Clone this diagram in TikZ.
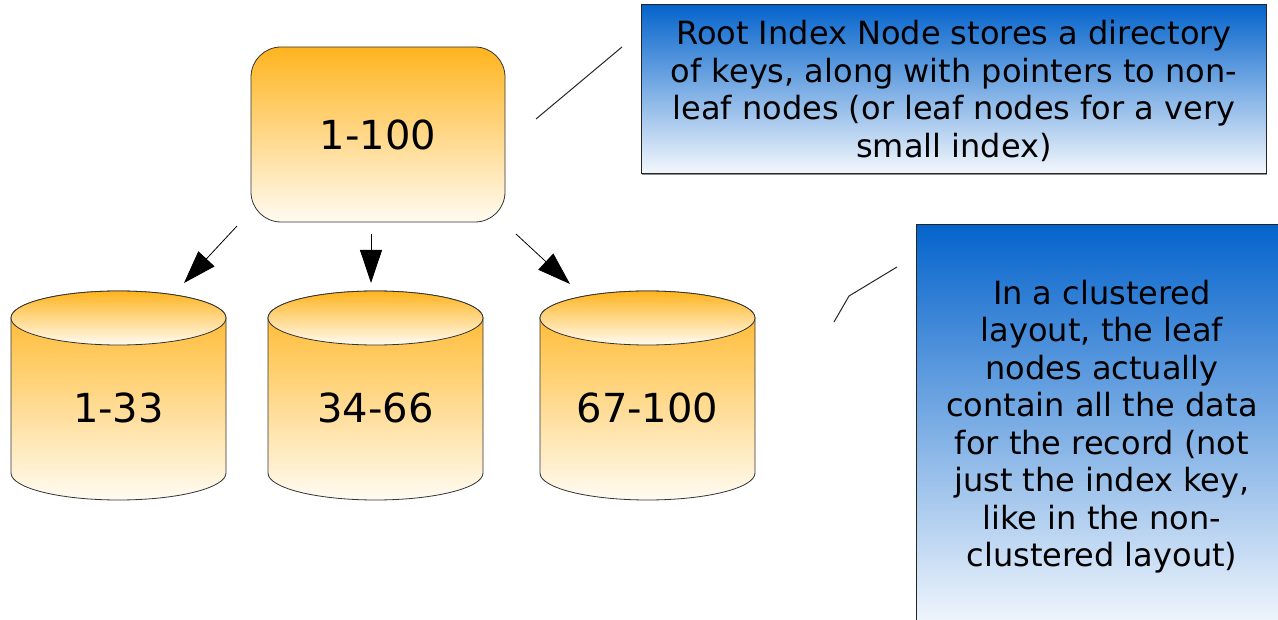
\documentclass[tikz,border=0pt]{standalone}
\usepackage{fontspec}
\setmainfont{DejaVu Sans}
\usetikzlibrary{arrows.meta,shadows}

\definecolor{gold}{RGB}{255,180,30}
\definecolor{cream}{RGB}{255,251,242}
\definecolor{navy}{RGB}{5,100,204}
\definecolor{mist}{RGB}{244,248,253}

\tikzset{
  keybox/.style={draw=black!80, line width=0.8pt, rounded corners=30pt,
    top color=gold, bottom color=cream, minimum width=254pt,
    minimum height=175pt, inner sep=0pt, font=\fontsize{40}{48}\selectfont},
  drumside/.style={draw=black!80, line width=0.8pt, top color=gold, bottom color=cream},
  drumlabel/.style={font=\fontsize{40}{48}\selectfont},
  note/.style={draw=black!85, line width=1pt, top color=navy, bottom color=mist,
    inner sep=0pt},
  notetext/.style={font=\fontsize{32}{37.5}\selectfont, align=center},
  ptr/.style={line width=0.8pt, -{Triangle[length=33pt,width=22pt]}},
  callout/.style={line width=1pt, draw=black!85},
}

\begin{document}
\begin{tikzpicture}[x=1pt,y=-1pt]
  \useasboundingbox (0,0) rectangle (1278,620);
  \clip (0,0) rectangle (1278,620);

  % root index node
  \node[keybox] (root) at (378,134.5) {1-100};

  % leaf pages drawn as drums
  \foreach \cx/\nm/\txt in {118.5/leafA/1-33, 375.5/leafB/34-66, 647.5/leafC/67-100}{
    \begin{scope}[shift={(\cx,318)}]
      \path[drumside] (-107.5,0) -- (-107.5,155)
        arc[start angle=180, end angle=0, x radius=107.5, y radius=27]
        -- (107.5,0)
        arc[start angle=0, end angle=-180, x radius=107.5, y radius=27] -- cycle;
      \path[drumside] (0,0) ellipse[x radius=107.5, y radius=27];
      \node[drumlabel] (\nm) at (0,90) {\txt};
    \end{scope}
  }

  % pointers from the root to the leaves
  \coordinate (pA) at (237,226);
  \coordinate (qA) at (184,283);
  \coordinate (pB) at (371,234);
  \coordinate (qB) at (371,283);
  \coordinate (pC) at (516,234);
  \coordinate (qC) at (570,284);
  \draw[ptr] (pA) -- (qA);
  \draw[ptr] (pB) -- (qB);
  \draw[ptr] (pC) -- (qC);

  % explanatory notes
  \node[note, minimum width=625pt, minimum height=169pt,
        drop shadow={shadow xshift=1.2pt, shadow yshift=-1.5pt, fill=black!45, opacity=1}]
    (rootnote) at (953.5,89.5) {};
  \node[notetext] (rootnotetext) at (954,91)
    {Root Index Node stores a directory\\of keys, along with pointers to non-\\leaf nodes (or leaf nodes for a very\\small index)};

  \node[note, minimum width=380pt, minimum height=405pt] (leafnote) at (1106,427.5) {};
  \node[notetext] (leafnotetext) at (1102,426.5)
    {In a clustered\\layout, the leaf\\nodes actually\\contain all the data\\for the record (not\\just the index key,\\like in the non-\\clustered layout)};

  % callout strokes
  \coordinate (kA) at (536,119);
  \coordinate (kB) at (622,47);
  \draw[callout] (kA) -- (kB);
  \coordinate (mA) at (834,322);
  \coordinate (mB) at (849,296);
  \coordinate (mC) at (897,267);
  \draw[callout] (mA) -- (mB) -- (mC);
\end{tikzpicture}
\end{document}
